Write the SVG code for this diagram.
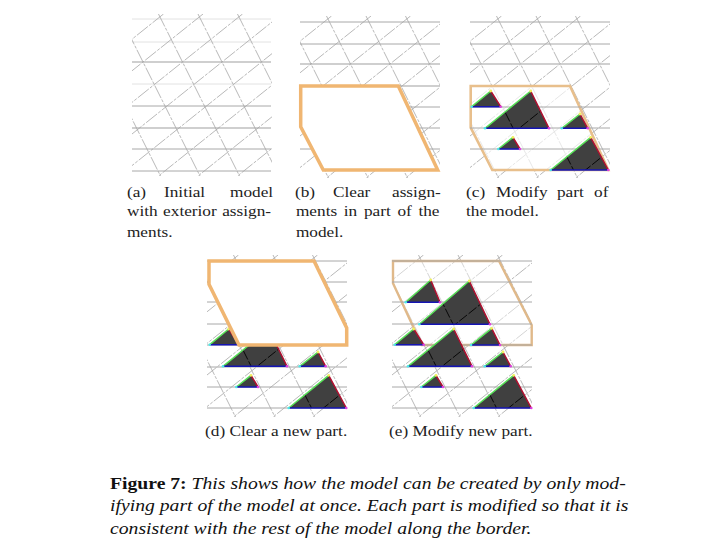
<svg xmlns="http://www.w3.org/2000/svg" width="720" height="540" viewBox="0 0 720 540">
<style>
.h1{stroke:#e2e2e2;stroke-width:1;fill:none}
.h{stroke:#a8a8a8;stroke-width:1;fill:none}
.h2{stroke:#c0c0c0;stroke-width:1.6;fill:none}
.dg{stroke:#a6a6a6;stroke-width:.8;fill:none;stroke-dasharray:14 1.5 3 1.5}
.dk{stroke:#000;stroke-width:.9;fill:none;stroke-dasharray:10 2}
.tf{fill:#404040}
.g{stroke:#58e058;stroke-width:1.5}
.r{stroke:#b01030;stroke-width:1.5}
.b{stroke:#1414b4;stroke-width:1.6}
.cy{fill:#50e8e8}.ye{fill:#f0f060}.ma{fill:#e040e0}
.cap{font-family:"Liberation Serif",serif;font-size:14.5px;fill:#222}
.fig{font-family:"Liberation Serif",serif;font-size:17.5px;font-style:italic;fill:#111}
.figb{font-weight:bold;font-style:normal}
</style>
<defs>
<clipPath id="c"><rect x="0" y="-6" width="140" height="162"/></clipPath>
<g id="diag" clip-path="url(#c)">
<path d="M-92-6L-11 156M-52.5-6L28.5 156M-13-6L68 156M26.5-6L107.5 156M66-6L147 156M105.5-6L186.5 156"/>
<path d="M31.5-6L-171 156M71-6L-131.5 156M110.5-6L-92 156M150-6L-52.5 156M189.5-6L-13 156M229-6L26.5 156M268.5-6L66 156M308-6L105.5 156M347.5-6L145 156"/>
</g>
<clipPath id="ct"><path d="M490.7 91L471.7 106.7H500.7ZM530.7 91L485 128.3H549ZM580 114L561.7 128.3H587.7ZM513 137.3L498.3 149H520ZM590.7 137.3L550.7 170H608.3Z"/></clipPath>
<clipPath id="ce"><path d="M430.7 280L405.7 302.3H440ZM469.3 281L419.3 324.3H490ZM491.7 328.3L471 345H500Z"/></clipPath>
<g id="t1"><path class="tf" d="M490.7 91L471.7 106.7H500.7Z"/></g>
<g id="set">
<path class="tf" d="M490.7 91L471.7 106.7H500.7ZM530.7 91L485 128.3H549ZM580 114L561.7 128.3H587.7ZM513 137.3L498.3 149H520ZM590.7 137.3L550.7 170H608.3Z"/>
<g clip-path="url(#ct)"><use href="#diag" x="470" y="22" class="dk"/></g>
<path class="g" d="M490.7 91L471.7 106.7M530.7 91L485 128.3M580 114L561.7 128.3M513 137.3L498.3 149M590.7 137.3L550.7 170"/>
<path class="r" d="M490.7 91L500.7 106.7M530.7 91L549 128.3M580 114L587.7 128.3M513 137.3L520 149M590.7 137.3L608.3 170"/>
<path class="b" d="M471.7 106.7H500.7M485 128.3H549M561.7 128.3H587.7M498.3 149H520M550.7 170H608.3"/>
<g class="ye"><circle cx="490.7" cy="91" r="1.4"/><circle cx="530.7" cy="91" r="1.4"/><circle cx="580" cy="114" r="1.4"/><circle cx="513" cy="137.3" r="1.4"/><circle cx="590.7" cy="137.3" r="1.4"/></g>
<g class="cy"><circle cx="471.7" cy="106.7" r="1.3"/><circle cx="485" cy="128.3" r="1.3"/><circle cx="561.7" cy="128.3" r="1.3"/><circle cx="498.3" cy="149" r="1.3"/><circle cx="550.7" cy="170" r="1.3"/></g>
<g class="ma"><circle cx="500.7" cy="106.7" r="1.3"/><circle cx="549" cy="128.3" r="1.3"/><circle cx="587.7" cy="128.3" r="1.3"/><circle cx="520" cy="149" r="1.3"/><circle cx="608.3" cy="170" r="1.3"/></g>
</g>
</defs>
<rect width="720" height="540" fill="#fff"/>

<g id="panel-a">
<path class="h1" d="M132 19H271M132 42H271M132 84H271"/>
<path class="h2" d="M132 62H271M132 128H271"/>
<path class="h" d="M132 106H271M132 149H271M132 171H271"/>
<use href="#diag" x="132" y="20" class="dg"/>
</g>

<g id="panel-b">
<path class="h" d="M300 22H440M300 44H440M300 107H440M300 128H440M300 149H440"/>
<path class="h2" d="M300 64H440M300 86H440"/>
<use href="#diag" x="300" y="22" class="dg"/>
<path d="M300.7 86H398.3L437.7 170H323.3L300.7 126.7Z" fill="#fff" stroke="#f0b672" stroke-width="3.5"/>
</g>

<g id="panel-c">
<use href="#diag" x="470" y="22" class="dg"/>
<path d="M470.7 86H570L608.3 170H492.3L470.7 127.7Z" fill="#fff" fill-opacity=".65" stroke="#e8bf8c" stroke-width="2.6"/>
<path class="h" d="M470 22H610M470 44H610M470 107H610M470 128H610M470 149H610"/>
<path class="h2" d="M470 64H610"/>
<use href="#set"/>
</g>

<g id="panel-d">
<path class="h" d="M207 261H347M207 282H347M207 302H347M207 324H347M207 345H347M207 367H347M207 387H347M207 408H347"/>
<use href="#diag" x="207" y="261" class="dg"/>
<use href="#set" x="-262" y="238"/>
<path d="M209 261H314L346.7 328V345H239L209 284.3Z" fill="#fff" stroke="#f0b672" stroke-width="3.5"/>
</g>

<g id="panel-e">
<use href="#diag" x="392" y="261" class="dg"/>
<path d="M393 261H499L531.7 325V345H421.7L393 283.3Z" fill="#fff" fill-opacity=".4" stroke="#e0b98a" stroke-width="2.4"/>
<path class="h" d="M392 261H532M392 282H532M392 302H532M392 324H532M392 345H532M392 367H532M392 387H532M392 408H532"/>
<use href="#set" x="-77" y="238"/>
<path class="tf" d="M430.7 280L405.7 302.3H440ZM469.3 281L419.3 324.3H490ZM491.7 328.3L471 345H500Z"/>
<g clip-path="url(#ce)"><use href="#diag" x="392" y="261" class="dk"/></g>
<path class="g" d="M430.7 280L405.7 302.3M469.3 281L419.3 324.3M491.7 328.3L471 345"/>
<path class="r" d="M430.7 280L440 302.3M469.3 281L490 324.3M491.7 328.3L500 345"/>
<path class="b" d="M405.7 302.3H440M419.3 324.3H490M471 345H500"/>
<g class="ye"><circle cx="430.7" cy="280" r="1.4"/><circle cx="469.3" cy="281" r="1.4"/><circle cx="491.7" cy="328.3" r="1.4"/></g>
<g class="cy"><circle cx="405.7" cy="302.3" r="1.3"/><circle cx="419.3" cy="324.3" r="1.3"/><circle cx="471" cy="345" r="1.3"/></g>
<g class="ma"><circle cx="440" cy="302.3" r="1.3"/><circle cx="490" cy="324.3" r="1.3"/><circle cx="500" cy="345" r="1.3"/></g>
</g>

<g id="captions" transform="scale(1.19 1)">
<text class="cap" y="197"><tspan x="106.7">(a)</tspan><tspan x="137.8">Initial</tspan><tspan x="193.3">model</tspan></text>
<text class="cap" y="216.5" x="106.7" word-spacing="1">with exterior assign-</text>
<text class="cap" y="237" x="106.7">ments.</text>
<text class="cap" y="197"><tspan x="247.9">(b)</tspan><tspan x="279.8">Clear</tspan><tspan x="329.4">assign-</tspan></text>
<text class="cap" y="216.5" x="248.7" word-spacing="2">ments in part of the</text>
<text class="cap" y="237" x="248.7">model.</text>
<text class="cap" y="197"><tspan x="391.6">(c)</tspan><tspan x="416.8">Modify</tspan><tspan x="468">part</tspan><tspan x="499.2">of</tspan></text>
<text class="cap" y="216.5" x="391.6">the model.</text>
<text class="cap" y="436" x="172.3">(d) Clear a new part.</text>
<text class="cap" y="436" x="326.9">(e) Modify new part.</text>
</g>
<g id="figure-caption" transform="scale(1.125 1)">
<text class="fig" y="489" x="97.8"><tspan class="figb">Figure 7:</tspan> This shows how the model can be created by only mod-</text>
<text class="fig" y="511.5" x="97.8">ifying part of the model at once. Each part is modified so that it is</text>
<text class="fig" y="534" x="97.8">consistent with the rest of the model along the border.</text>
</g>
</svg>
